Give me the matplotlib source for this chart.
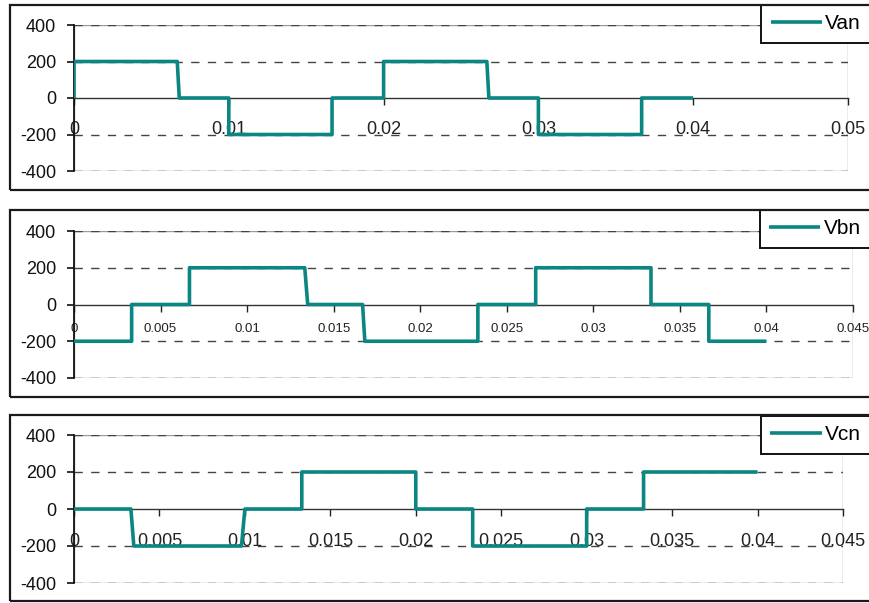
import numpy as np
import matplotlib.pyplot as plt
from matplotlib.patches import Rectangle

plt.rcParams['font.family'] = ['Liberation Sans', 'DejaVu Sans']
plt.rcParams['axes.unicode_minus'] = False

# phase voltages of the six-step inverter (time in s, voltage in V)
van_t = [0, 0, 0.00667, 0.0068, 0.01, 0.01, 0.01667, 0.01667, 0.02, 0.02,
         0.02667, 0.0268, 0.03, 0.03, 0.03667, 0.03667, 0.04]
van_v = [0, 200, 200, 0, 0, -200, -200, 0, 0, 200, 200, 0, 0, -200, -200, 0, 0]

vbn_t = [0, 0.00333, 0.00333, 0.00667, 0.00667, 0.01333, 0.0135, 0.01667,
         0.0168, 0.02333, 0.02333, 0.02667, 0.02667, 0.03333, 0.03333,
         0.03667, 0.03667, 0.04]
vbn_v = [-200, -200, 0, 0, 200, 200, 0, 0, -200, -200, 0, 0, 200, 200, 0, 0,
         -200, -200]

vcn_t = [0, 0.00333, 0.0035, 0.0098, 0.01, 0.01333, 0.01333, 0.02, 0.02,
         0.02333, 0.02333, 0.03, 0.03, 0.03333, 0.03333, 0.04]
vcn_v = [0, 0, -200, -200, 0, 0, 200, 200, 0, 0, -200, -200, 0, 0, 200, 200]

names = ['Van', 'Vbn', 'Vcn']
series = [(van_t, van_v), (vbn_t, vbn_v), (vcn_t, vcn_v)]
xmax = [0.05, 0.045, 0.045]
xstep = [0.01, 0.005, 0.005]
yticks = [-400, -200, 0, 200, 400]

W, H = 869, 603
# pixel layout: (left, right, top, bottom) of plot area, outer frame, legend
plot_px = [(74, 848, 25, 171), (74, 853, 231, 378), (74, 843, 435, 583)]
frame_px = [(10, 5, 190), (10, 210, 397), (10, 415, 601)]
leg_px = [(870, 5), (870, 210), (870, 416)]
xlab_size = [13, 9.5, 13]
xlab_pad = [11.5, 8, 12]

teal = '#0c8683'

fig = plt.figure(figsize=(W / 100, H / 100), dpi=100)

for i in range(3):
    l, r, t, b = plot_px[i]
    ax = fig.add_axes([l / W, 1 - b / H, (r - l) / W, (b - t) / H])

    # outer chart frame
    fl, ft, fb = frame_px[i]
    fig.patches.append(Rectangle((fl / W, 1 - fb / H), (W + 5 - fl) / W, (fb - ft) / H,
                                 transform=fig.transFigure, fill=False,
                                 edgecolor='#1a1a1a', lw=1.6, zorder=0))

    x, y = series[i]
    ax.plot(x, y, color=teal, lw=2.6, label=names[i], zorder=3, solid_capstyle='butt')

    ax.set_xlim(0, xmax[i])
    ax.set_ylim(-400, 400)
    ax.set_yticks(yticks)
    xt = np.arange(0, xmax[i] + 1e-9, xstep[i])
    ax.set_xticks(xt)
    ax.set_xticklabels(['%g' % round(v, 4) for v in xt])

    for s in ['top', 'right']:
        ax.spines[s].set_visible(False)
    ax.spines['bottom'].set_position(('data', 0))
    ax.spines['bottom'].set_color('#333333')
    ax.spines['bottom'].set_linewidth(1.0)
    ax.spines['left'].set_color('#111111')
    ax.spines['left'].set_linewidth(1.3)

    # plot-area border
    ax.add_patch(Rectangle((0, 0), 1, 1, transform=ax.transAxes, fill=False,
                           edgecolor='#9a9a9a', lw=1.0, zorder=0.5))

    for yy in [-400, -200, 200, 400]:
        ax.axhline(yy, color='#444444', lw=1.0, dashes=(6, 6), zorder=1)

    ax.tick_params(axis='y', direction='out', length=5, width=1.2, pad=8,
                   labelsize=13, colors='#111111')
    ax.tick_params(axis='x', direction='out', length=5, width=1.0, pad=xlab_pad[i],
                   labelsize=xlab_size[i], colors='#222222')

    lx, ly = leg_px[i]
    leg = ax.legend(loc='upper right', bbox_to_anchor=(lx / W, 1 - ly / H),
                    bbox_transform=fig.transFigure, fontsize=15, frameon=True,
                    fancybox=False, framealpha=1, borderaxespad=0, borderpad=0.45,
                    handlelength=2.45, handletextpad=0.15)
    leg.get_frame().set_edgecolor('#111111')
    leg.get_frame().set_linewidth(1.4)

fig.savefig('out.png', dpi=100)
